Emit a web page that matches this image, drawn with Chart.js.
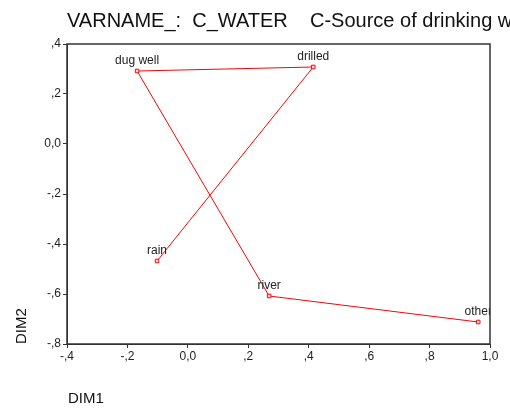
<!DOCTYPE html>
<html>
<head>
<meta charset="utf-8">
<script src="https://cdn.jsdelivr.net/npm/chart.js@4"></script>
<style>
  html, body { margin: 0; padding: 0; background: #fff; }
  #wrap { width: 510px; height: 408px; }
</style>
</head>
<body>
<div id="wrap"><canvas id="chart" width="510" height="408"></canvas></div>
<script>
// category points, in the order the line joins them
const categories = ['rain', 'drilled', 'dug well', 'river', 'other'];
const dim1 = [-0.102, 0.415, -0.168, 0.269, 0.961];
const dim2 = [-0.468, 0.308, 0.292, -0.608, -0.712];

const titleText = 'VARNAME_:  C_WATER    C-Source of drinking water';
const FONT = '"Liberation Sans", Arial, sans-serif';

// SPSS style tick labels: comma decimal, no leading zero
function fmt(v) {
  if (Math.abs(v) < 1e-9) return '0,0';
  let s = v.toFixed(1).replace('.', ',');
  s = s.replace(/^0,/, ',').replace(/^-0,/, '-,');
  return s;
}

// frame, point labels, title and axis names
const decorations = {
  id: 'decorations',
  afterDatasetsDraw(chart) {
    const ctx = chart.ctx;
    const a = chart.chartArea;
    const meta = chart.getDatasetMeta(0);
    ctx.save();
    ctx.beginPath();
    ctx.rect(a.left, a.top, a.right - a.left, a.bottom - a.top);
    ctx.clip();
    ctx.fillStyle = '#222';
    ctx.font = '12px ' + FONT;
    ctx.textAlign = 'center';
    ctx.textBaseline = 'bottom';
    meta.data.forEach((pt, i) => {
      ctx.fillText(categories[i], pt.x, pt.y - 4);
    });
    ctx.restore();

    ctx.save();
    ctx.strokeStyle = '#333';
    ctx.lineWidth = 1.5;
    ctx.strokeRect(a.left, a.top, a.right - a.left, a.bottom - a.top);

    ctx.fillStyle = '#111';
    ctx.font = '20px ' + FONT;
    ctx.textAlign = 'left';
    ctx.textBaseline = 'alphabetic';
    ctx.fillText(titleText, a.left, 27);

    ctx.font = '15px ' + FONT;
    ctx.fillText('DIM1', a.left + 1, 403);

    ctx.translate(26, a.bottom);
    ctx.rotate(-Math.PI / 2);
    ctx.textAlign = 'left';
    ctx.fillText('DIM2', 0, 0);
    ctx.restore();
  }
};

const points = dim1.map((x, i) => ({ x: x, y: dim2[i] }));

new Chart(document.getElementById('chart'), {
  type: 'scatter',
  data: {
    datasets: [{
      data: points,
      showLine: true,
      borderColor: '#ff0000',
      borderWidth: 1,
      pointStyle: 'rect',
      pointRadius: 2.5,
      pointBorderWidth: 1,
      pointBorderColor: '#ff0000',
      pointBackgroundColor: '#ffe0e0',
      tension: 0
    }]
  },
  options: {
    responsive: false,
    animation: false,
    layout: { padding: { left: 0, right: 20, top: 44, bottom: 0 } },
    plugins: {
      legend: { display: false },
      tooltip: { enabled: false }
    },
    scales: {
      x: {
        type: 'linear',
        min: -0.4,
        max: 1.0,
        afterFit(s) { s.height = 64; },
        ticks: {
          stepSize: 0.2,
          color: '#222',
          font: { size: 12, family: FONT },
          padding: 1,
          maxRotation: 0,
          callback: fmt
        },
        grid: { drawOnChartArea: false, drawTicks: true, tickLength: 4, color: '#333' },
        border: { display: true, color: '#333' }
      },
      y: {
        type: 'linear',
        min: -0.8,
        max: 0.4,
        afterFit(s) { s.width = 67; },
        ticks: {
          stepSize: 0.2,
          color: '#222',
          font: { size: 12, family: FONT },
          padding: 2,
          callback: fmt
        },
        grid: { drawOnChartArea: false, drawTicks: true, tickLength: 4, color: '#333' },
        border: { display: true, color: '#333' }
      }
    }
  },
  plugins: [decorations]
});
</script>
</body>
</html>
